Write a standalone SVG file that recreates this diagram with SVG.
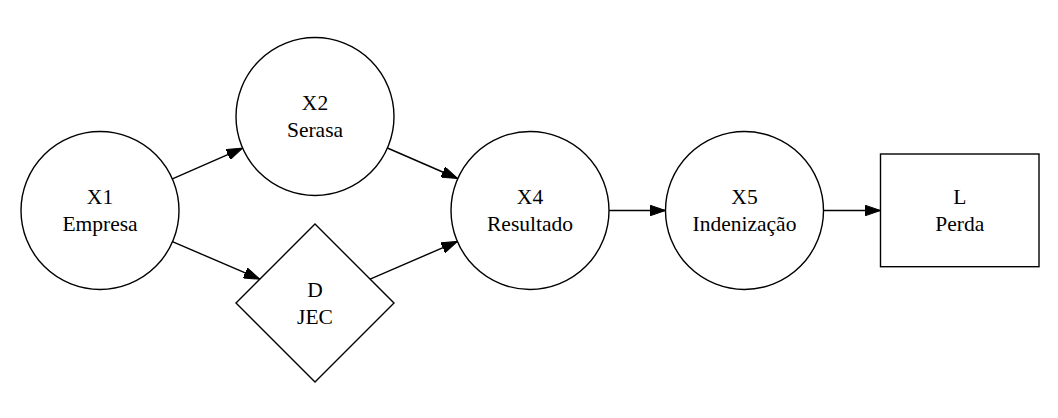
<svg xmlns="http://www.w3.org/2000/svg" width="1058" height="418" viewBox="0 0 1058 418">
<style>
.n{fill:#fff;stroke:#000;stroke-width:1.4}
.e{fill:none;stroke:#000;stroke-width:1.4}
.t{font-family:'Liberation Serif','Times New Roman',Times,serif;font-size:21.5px;fill:#000;text-anchor:middle}
</style>
<defs>
<marker id="ah" viewBox="0 0 16 11" refX="16" refY="5.5" markerWidth="16" markerHeight="11" markerUnits="userSpaceOnUse" orient="auto">
<path d="M0,0 L16,5.5 L0,11 z" fill="#000" stroke="#000" stroke-width="1"/>
</marker>
</defs>
<rect width="1058" height="418" fill="#fff"/>
<g id="edges">
<line class="e" x1="172.4" y1="178.8" x2="242.6" y2="148.2" marker-end="url(#ah)"/>
<line class="e" x1="172.4" y1="241.6" x2="259.8" y2="279.2" marker-end="url(#ah)"/>
<line class="e" x1="387.4" y1="148" x2="457.6" y2="178.5" marker-end="url(#ah)"/>
<line class="e" x1="370.1" y1="279.1" x2="457.5" y2="241.4" marker-end="url(#ah)"/>
<line class="e" x1="609" y1="210.5" x2="665.5" y2="210.5" marker-end="url(#ah)"/>
<line class="e" x1="823.5" y1="210.5" x2="880.5" y2="210.5" marker-end="url(#ah)"/>
</g>
<g font-family="Liberation Serif, Times New Roman, serif" font-size="21.5">
<g id="X1">
<circle class="n" cx="100" cy="210.5" r="79"/>
<text class="t" x="100" y="204.3">X1</text>
<text class="t" x="100" y="230.7">Empresa</text>
</g>
<g id="X2">
<circle class="n" cx="315" cy="116.5" r="79"/>
<text class="t" x="315" y="110.3">X2</text>
<text class="t" x="315" y="136.7">Serasa</text>
</g>
<g id="D">
<polygon class="n" points="315,224 394,303 315,382 236,303"/>
<text class="t" x="315" y="297.3">D</text>
<text class="t" x="315" y="323.5">JEC</text>
</g>
<g id="X4">
<circle class="n" cx="530" cy="210.5" r="79"/>
<text class="t" x="530" y="204.3">X4</text>
<text class="t" x="530" y="230.7">Resultado</text>
</g>
<g id="X5">
<circle class="n" cx="744.5" cy="210.5" r="79"/>
<text class="t" x="744.5" y="204.3">X5</text>
<text class="t" x="744.5" y="230.7">Indenização</text>
</g>
<g id="L">
<rect class="n" x="880.5" y="154" width="158.5" height="112.7"/>
<text class="t" x="959.75" y="204.3">L</text>
<text class="t" x="959.75" y="230.7">Perda</text>
</g>
</g>
</svg>
